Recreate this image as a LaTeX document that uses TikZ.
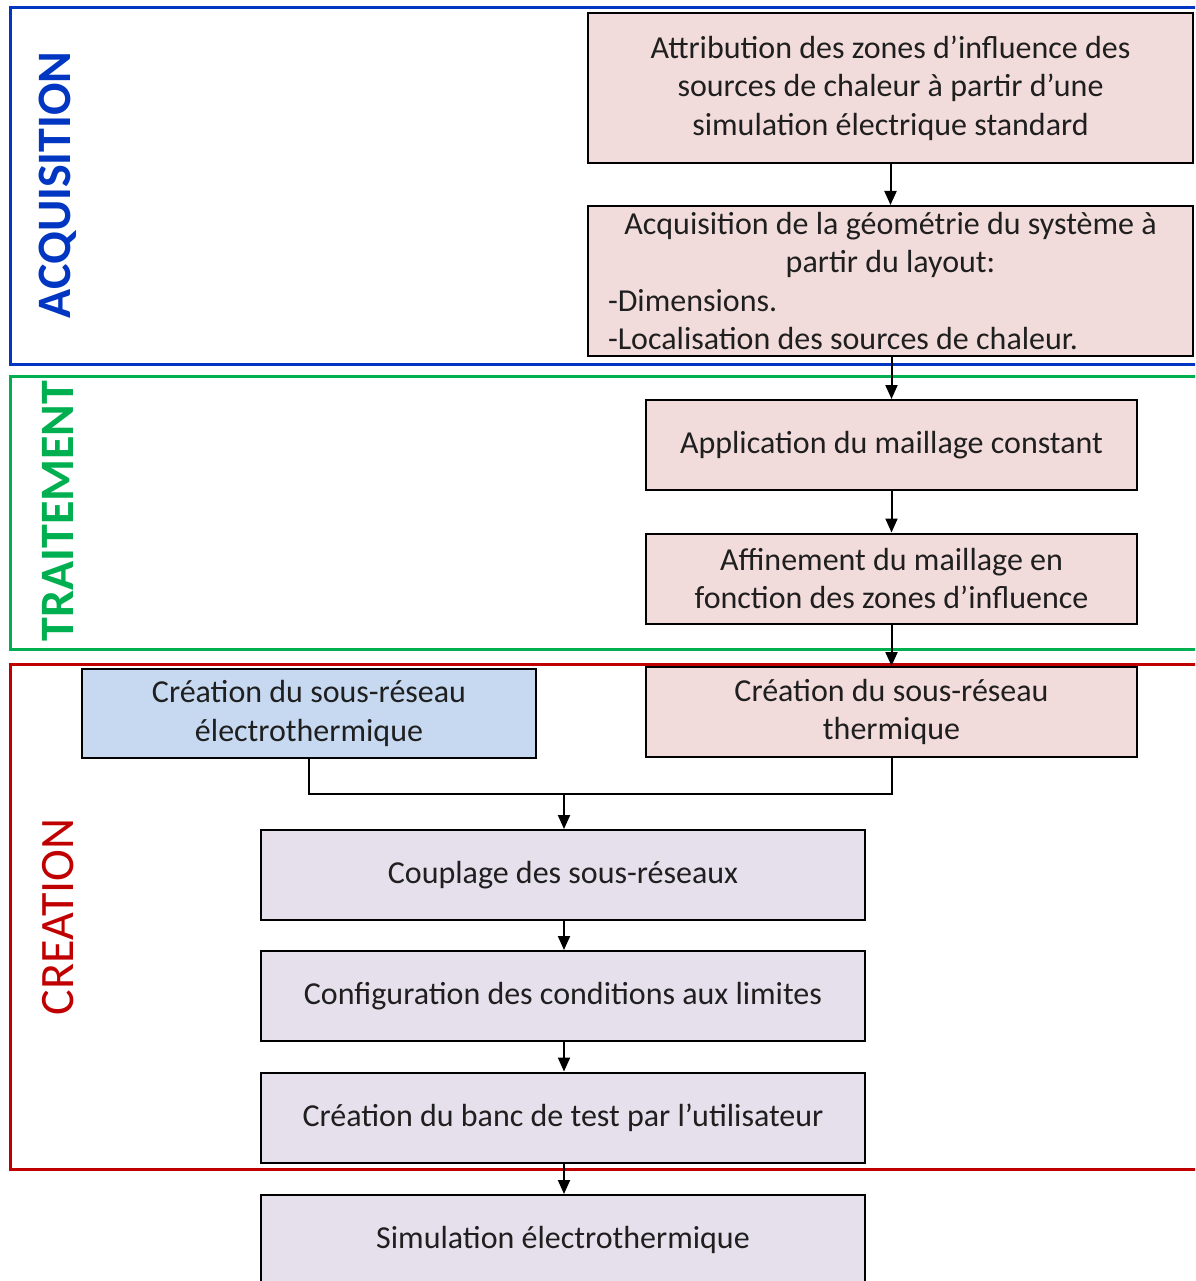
\documentclass[tikz,border=0pt]{standalone}
\usepackage{fontspec}
\setmainfont{Carlito}
\usetikzlibrary{arrows.meta,positioning}
\definecolor{zoneBlue}{HTML}{0036C2}
\definecolor{zoneGreen}{HTML}{00B050}
\definecolor{zoneRed}{HTML}{C00000}
\definecolor{boxRose}{HTML}{F2DCDB}
\definecolor{boxSky}{HTML}{C6D9F1}
\definecolor{boxLilac}{HTML}{E5E0EC}
\tikzset{
  % Process steps: plain rectangles, thick black outline.
  flux/box/.style={
    draw=black, line width=2pt, inner sep=0pt, align=center,
    font=\fontsize{32}{38.5}\selectfont, text=black!88
  },
  flux/rose/.style={flux/box, fill=boxRose},
  flux/sky/.style={flux/box, fill=boxSky},
  flux/lilac/.style={flux/box, fill=boxLilac},
  % Phase frames, open to the right.
  flux/zone/.style={line width=3pt},
  % Phase name, read bottom to top.
  flux/title/.style={rotate=90, inner sep=0pt, font=\fontsize{48}{50}\selectfont},
  flux/arrow/.style={
    -{Triangle[length=14pt,width=12pt]}, line width=2pt, draw=black
  },
}
\setlength{\parindent}{0pt}
\begin{document}
\begin{tikzpicture}[x=1pt,y=-1pt,
  wide/.style={minimum width=605pt, minimum height=150pt},
  mid/.style={minimum width=491pt, minimum height=90pt},
  low/.style={minimum width=604pt, minimum height=90pt}]
  \clip (0,0) rectangle (1195,1281);
  \fill[white] (0,0) rectangle (1195,1281);
  % phases
  \draw[flux/zone, draw=zoneBlue]  (1215,8)   -| (10,364)  -- (1215,364);
  \draw[flux/zone, draw=zoneGreen] (1215,376) -| (10,649)  -- (1215,649);
  \draw[flux/zone, draw=zoneRed]   (1215,664) -| (10,1169) -- (1215,1169);
  \node[flux/title, text=zoneBlue, font=\fontsize{48}{50}\selectfont\bfseries]  (tAcq) at (58,185) {ACQUISITION};
  \node[flux/title, text=zoneGreen, font=\fontsize{48}{50}\selectfont\bfseries] (tTra) at (58,511) {TRAITEMENT};
  \node[flux/title, text=zoneRed] (tCre) at (58,917) {CREATION};
  % steps
  \node[flux/rose, wide] (attr) at (890.5,88)
       {Attribution des zones d’influence des\\sources de chaleur à partir d’une\\simulation électrique standard};
  \node[flux/rose, wide, text width=565pt, align=none] (geom) at (890.5,281)
       {\centering Acquisition de la géométrie du système à\\partir du layout:\par
        \raggedright -Dimensions.\\-Localisation des sources de chaleur.\par};
  \node[flux/rose, mid] (mail) at (891.5,445) {Application du maillage constant};
  \node[flux/rose, mid] (affi) at (891.5,578.5) {Affinement du maillage en\\fonction des zones d’influence};
  \node[flux/rose, mid] (ther) at (891.5,712) {Création du sous-réseau\\thermique};
  \node[flux/sky, minimum width=454pt, minimum height=89pt] (elec) at (309,713.5)
       {Création du sous-réseau\\électrothermique};
  \node[flux/lilac, low] (coup) at (563,875) {Couplage des sous-réseaux};
  \node[flux/lilac, low] (conf) at (563,996) {Configuration des conditions aux limites};
  \node[flux/lilac, low] (banc) at (563,1117.5) {Création du banc de test par l’utilisateur};
  \node[flux/lilac, low] (simu) at (563,1240) {Simulation électrothermique};
  % links
  \draw[flux/arrow] (attr) -- (geom);
  \draw[flux/arrow] (geom.south -| mail) -- (mail);
  \draw[flux/arrow] (mail) -- (affi);
  \draw[flux/arrow] (affi) -- (ther);
  \coordinate (join) at (564,794);
  \draw[line width=2pt] (elec.south) |- (join) -| (ther.south);
  \draw[flux/arrow] (join) -- (join |- coup.north);
  \draw[flux/arrow] (coup.south -| join) -- (conf.north -| join);
  \draw[flux/arrow] (conf.south -| join) -- (banc.north -| join);
  \draw[flux/arrow] (banc.south -| join) -- (simu.north -| join);
\end{tikzpicture}
\end{document}
